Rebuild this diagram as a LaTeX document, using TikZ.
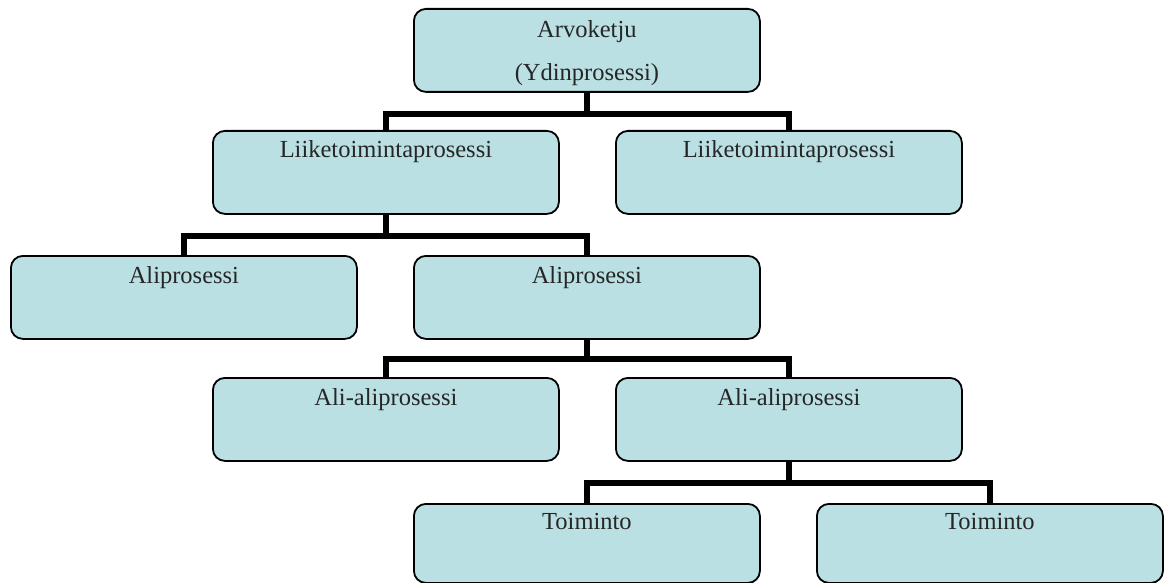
\documentclass[tikz,border=0pt]{standalone}
\usepackage{fontspec}
\setmainfont{Liberation Serif}
\begin{document}
\definecolor{boxfill}{RGB}{186,224,227}
\begin{tikzpicture}[x=1pt,y=-1pt,
  procbox/.style={draw=black, line width=1.8pt, fill=boxfill, rounded corners=12pt,
    rectangle, minimum width=346pt, minimum height=83pt, anchor=north west, inner sep=0pt},
  lastbox/.style={procbox, minimum height=79pt},
  boxtext/.style={font=\fontsize{24.5}{29}\selectfont, anchor=base, inner sep=0pt, text=black!85},
  conn/.style={draw=black, line width=5.5pt}
]
  \fill[white] (0,0) rectangle (1165,583);
  \useasboundingbox (0,0) rectangle (1165,583);

  % level 0
  \node[procbox] (top) at (413,8) {};
  % level 1
  \node[procbox] (la) at (212,130) {};
  \node[procbox] (lb) at (615,130) {};
  % level 2
  \node[procbox] (aa) at (10,255) {};
  \node[procbox] (ab) at (413,255) {};
  % level 3
  \node[procbox] (sa) at (212,377) {};
  \node[procbox] (sb) at (615,377) {};
  % level 4
  \node[lastbox] (ta) at (413,503) {};
  \node[lastbox] (tb) at (816,503) {};

  % labels
  \node[boxtext] at ([yshift=-30pt]top.north) {Arvoketju};
  \node[boxtext] at ([yshift=-73pt]top.north) {(Ydinprosessi)};
  \node[boxtext] at ([yshift=-28pt]la.north) {Liiketoimintaprosessi};
  \node[boxtext] at ([yshift=-28pt]lb.north) {Liiketoimintaprosessi};
  \node[boxtext] at ([yshift=-28pt]aa.north) {Aliprosessi};
  \node[boxtext] at ([yshift=-28pt]ab.north) {Aliprosessi};
  \node[boxtext] at ([yshift=-28pt]sa.north) {Ali-aliprosessi};
  \node[boxtext] at ([yshift=-28pt]sb.north) {Ali-aliprosessi};
  \node[boxtext] at ([yshift=-26pt]ta.north) {Toiminto};
  \node[boxtext] at ([yshift=-26pt]tb.north) {Toiminto};

  % connectors
  \coordinate (j0) at ([yshift=-21pt]top.south);
  \draw[conn] (top.south) -- (j0);
  \draw[conn] (la.north) |- (j0) -| (lb.north);

  \coordinate (j1) at ([yshift=-21pt]la.south);
  \draw[conn] (la.south) -- (j1);
  \draw[conn] (aa.north) |- (j1) -| (ab.north);

  \coordinate (j2) at ([yshift=-19pt]ab.south);
  \draw[conn] (ab.south) -- (j2);
  \draw[conn] (sa.north) |- (j2) -| (sb.north);

  \coordinate (j3) at ([yshift=-21pt]sb.south);
  \draw[conn] (sb.south) -- (j3);
  \draw[conn] (ta.north) |- (j3) -| (tb.north);
\end{tikzpicture}
\end{document}
